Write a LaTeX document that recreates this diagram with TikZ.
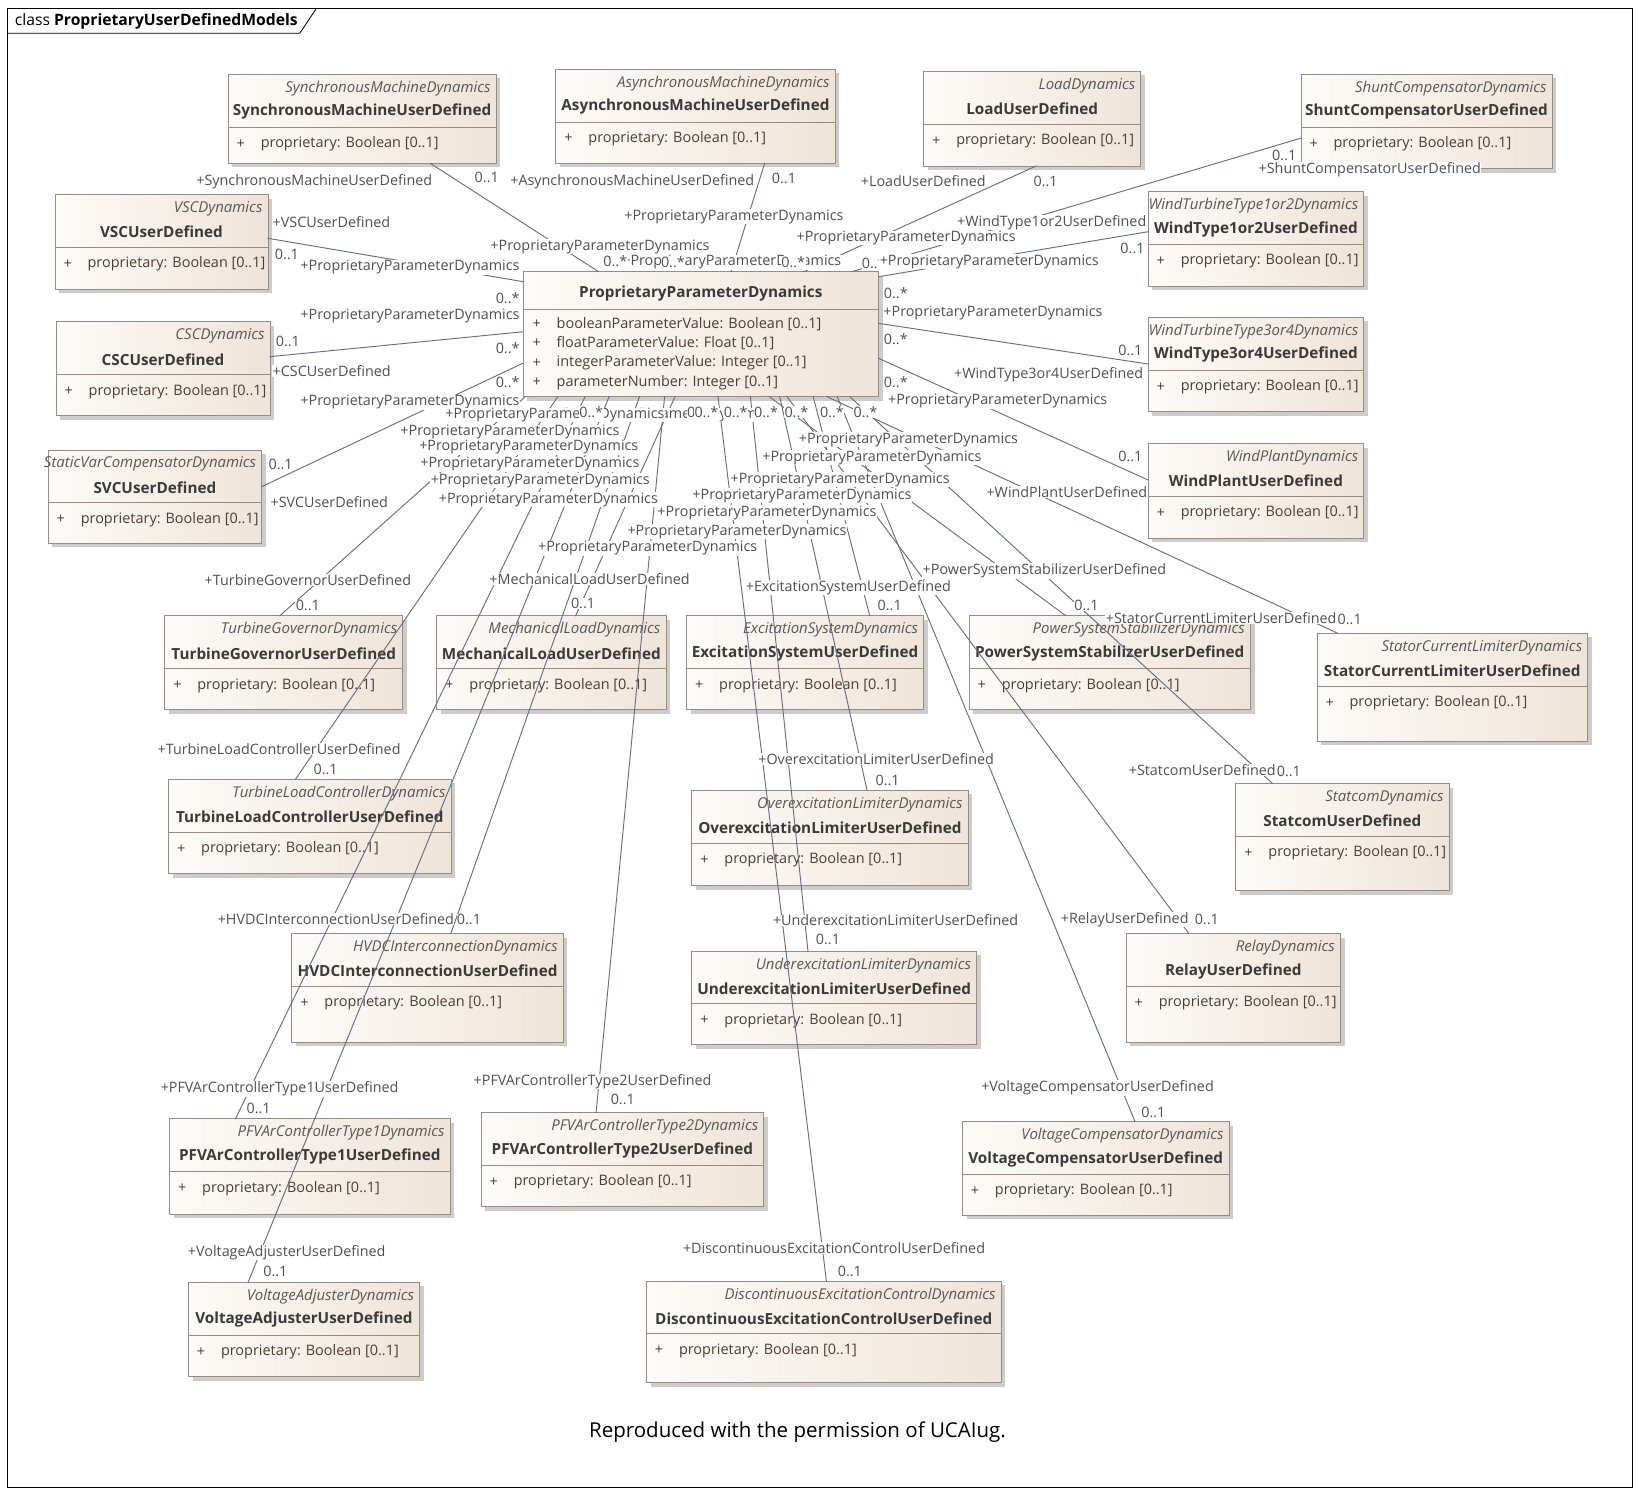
\documentclass[tikz,border=0pt]{standalone}
\usepackage{fontspec}
\newfontfamily\eafont{Open Sans}
\usepackage{tikz}

\begin{document}
\begin{tikzpicture}[x=1pt,y=-1pt,line cap=rect,
	umlbox/.style={draw=col_box_line, line width=0.8pt, left color=col_box_l, right color=col_box_r, inner sep=0, outer sep=0, anchor=north west},
	boxshadow/.style={fill=col_shadow},
	boxline/.style={draw=col_box_line, line width=0.8pt},
	stereo/.style={inner sep=0, text=col_stereo, font=\eafont\itshape\fontsize{14.3}{15}\selectfont},
	clsname/.style={inner sep=0, text=col_name, font=\eafont\bfseries\fontsize{14.6}{15}\selectfont},
	attr/.style={inner sep=0, text=col_attr, font=\eafont\fontsize{13.8}{14}\selectfont},
	assoc/.style={draw=col_assoc, line width=0.9pt},
	lbl/.style={fill=white, inner sep=0.4pt, anchor=west, yshift=-1.5pt, text=col_lbl, font=\eafont\fontsize{13.7}{14}\selectfont},
	lble/.style={lbl, anchor=east}]
	\definecolor{col_box_l}{RGB}{253, 251, 248}
	\definecolor{col_box_r}{RGB}{239, 228, 217}
	\definecolor{col_box_line}{RGB}{150, 140, 134}
	\definecolor{col_shadow}{RGB}{206, 204, 203}
	\definecolor{col_stereo}{RGB}{88, 88, 88}
	\definecolor{col_name}{RGB}{58, 58, 58}
	\definecolor{col_attr}{RGB}{76, 62, 52}
	\definecolor{col_assoc}{RGB}{104, 110, 128}
	\definecolor{col_lbl}{RGB}{80, 80, 80}
	\def\ppdrole{+ProprietaryParameterDynamics}
	% name, x, y, width, height, stereotype, class
	\def\umlclass#1#2#3#4#5#6#7{%
		\fill[boxshadow] (#2+4,#3+4) rectangle ++(#4,#5);
		\node[umlbox, minimum width=#4pt, minimum height=#5pt] (#1) at (#2,#3) {};
		\node[stereo, anchor=east] (#1-st) at ([xshift=-5pt,yshift=-13.5pt]#1.north east) {#6};
		\node[clsname] (#1-nm) at ([yshift=-36pt]#1.north) {#7};
		\draw[boxline] ([yshift=-50.5pt]#1.north west) -- ([yshift=-50.5pt]#1.north east);
		\node[attr, anchor=west] (#1-pl) at ([xshift=8pt,yshift=-66.5pt]#1.north west) {+};
		\node[attr, anchor=west] (#1-at) at ([xshift=31pt,yshift=-66.5pt]#1.north west) {proprietary: Boolean [0..1]};}
	\useasboundingbox (0,0) rectangle (1567,1428.5);
	% frame
	\draw[line width=0.8pt] (7.5,8) rectangle (1559.3,1420.8);
	\draw[line width=0.8pt] (7.5,31.8) -- (286.4,31.8) -- (302.3,8);
	\node[anchor=west, inner sep=0, font=\eafont\fontsize{15}{16}\selectfont] (title) at (14,20.5) {class \textbf{ProprietaryUserDefinedModels}};
	% classes
	\umlclass{sync}{218}{71}{256}{85}{SynchronousMachineDynamics}{SynchronousMachineUserDefined}
	\umlclass{async}{531}{66}{267}{90}{AsynchronousMachineDynamics}{AsynchronousMachineUserDefined}
	\umlclass{load}{882.5}{68}{207.5}{90.6}{LoadDynamics}{LoadUserDefined}
	\umlclass{shunt}{1243}{71}{240}{90}{ShuntCompensatorDynamics}{ShuntCompensatorUserDefined}
	\umlclass{vsc}{52.5}{185.7}{203.5}{90.7}{VSCDynamics}{VSCUserDefined}
	\umlclass{csc}{53.5}{307.4}{204.5}{90}{CSCDynamics}{CSCUserDefined}
	\umlclass{svc}{46}{430}{204}{89}{StaticVarCompensatorDynamics}{SVCUserDefined}
	\umlclass{wtone}{1097}{183}{206}{90.3}{WindTurbineType1or2Dynamics}{WindType1or2UserDefined}
	\umlclass{wtthree}{1097}{303}{206}{90.4}{WindTurbineType3or4Dynamics}{WindType3or4UserDefined}
	\umlclass{wplant}{1097}{423.6}{206}{90.4}{WindPlantDynamics}{WindPlantUserDefined}
	\umlclass{tgov}{157.4}{588.3}{227.4}{90}{TurbineGovernorDynamics}{TurbineGovernorUserDefined}
	\umlclass{mload}{417.3}{588.3}{219}{90}{MechanicalLoadDynamics}{MechanicalLoadUserDefined}
	\umlclass{excsys}{656}{588.3}{226.5}{90}{ExcitationSystemDynamics}{ExcitationSystemUserDefined}
	\umlclass{pss}{926}{588.3}{268.7}{90}{PowerSystemStabilizerDynamics}{PowerSystemStabilizerUserDefined}
	\umlclass{scl}{1258.3}{605}{258.7}{103}{StatorCurrentLimiterDynamics}{StatorCurrentLimiterUserDefined}
	\umlclass{tlc}{161}{744.6}{270}{90.4}{TurbineLoadControllerDynamics}{TurbineLoadControllerUserDefined}
	\umlclass{oel}{661}{755}{264}{91}{OverexcitationLimiterDynamics}{OverexcitationLimiterUserDefined}
	\umlclass{statcom}{1180.8}{748.5}{203.7}{102.5}{StatcomDynamics}{StatcomUserDefined}
	\umlclass{hvdc}{278.8}{891.8}{259.4}{104}{HVDCInterconnectionDynamics}{HVDCInterconnectionUserDefined}
	\umlclass{uel}{661}{908.7}{272}{89.3}{UnderexcitationLimiterDynamics}{UnderexcitationLimiterUserDefined}
	\umlclass{relay}{1076}{891.8}{204.7}{104}{RelayDynamics}{RelayUserDefined}
	\umlclass{pfvone}{162}{1069}{268}{91}{PFVArControllerType1Dynamics}{PFVArControllerType1UserDefined}
	\umlclass{pfvtwo}{459.7}{1062.8}{270}{90.2}{PFVArControllerType2Dynamics}{PFVArControllerType2UserDefined}
	\umlclass{vcomp}{919.5}{1071.7}{254.8}{89.3}{VoltageCompensatorDynamics}{VoltageCompensatorUserDefined}
	\umlclass{vadj}{180}{1225.2}{220.8}{90.2}{VoltageAdjusterDynamics}{VoltageAdjusterUserDefined}
	\umlclass{dec}{617.6}{1224}{339}{97}{DiscontinuousExcitationControlDynamics}{DiscontinuousExcitationControlUserDefined}
	% central class
	\fill[boxshadow] (503.7,263.6) rectangle ++(339.8,119.4);
	\node[umlbox, minimum width=339.8pt, minimum height=119.4pt] (ppd) at (499.7,259.6) {};
	\node[clsname] (ppd-nm) at ([yshift=-21pt]ppd.north) {ProprietaryParameterDynamics};
	\draw[boxline] ([yshift=-36pt]ppd.north west) -- ([yshift=-36pt]ppd.north east);
	\node[attr, anchor=west] (ppd-p1) at ([xshift=9pt,yshift=-50pt]ppd.north west) {+};
	\node[attr, anchor=west] (ppd-a1) at ([xshift=32pt,yshift=-50pt]ppd.north west) {booleanParameterValue: Boolean [0..1]};
	\node[attr, anchor=west] (ppd-p2) at ([xshift=9pt,yshift=-68.7pt]ppd.north west) {+};
	\node[attr, anchor=west] (ppd-a2) at ([xshift=32pt,yshift=-68.7pt]ppd.north west) {floatParameterValue: Float [0..1]};
	\node[attr, anchor=west] (ppd-p3) at ([xshift=9pt,yshift=-87.3pt]ppd.north west) {+};
	\node[attr, anchor=west] (ppd-a3) at ([xshift=32pt,yshift=-87.3pt]ppd.north west) {integerParameterValue: Integer [0..1]};
	\node[attr, anchor=west] (ppd-p4) at ([xshift=9pt,yshift=-105.8pt]ppd.north west) {+};
	\node[attr, anchor=west] (ppd-a4) at ([xshift=32pt,yshift=-105.8pt]ppd.north west) {parameterNumber: Integer [0..1]};
	% associations, top and sides
	\draw[assoc] ([xshift=193pt]sync.south west) -- ([xshift=72.3pt]ppd.north west);
	\draw[assoc] ([xshift=199.6pt]async.south west) -- ([xshift=198.8pt]ppd.north west);
	\draw[assoc] ([xshift=107.5pt]load.south west) -- ([xshift=268.3pt]ppd.north west);
	\draw[assoc] ([yshift=-61pt]shunt.north west) -- ([xshift=314.3pt]ppd.north west);
	\draw[assoc] ([yshift=-38.4pt]wtone.north west) -- ([yshift=-4.8pt]ppd.north east);
	\draw[assoc] ([yshift=-44.8pt]wtthree.north west) -- ([yshift=-49.4pt]ppd.north east);
	\draw[assoc] ([yshift=-35pt]wplant.north west) -- ([yshift=-82.8pt]ppd.north east);
	\draw[assoc] ([yshift=-42pt]vsc.north east) -- ([yshift=-9.5pt]ppd.north west);
	\draw[assoc] ([yshift=-33.4pt]csc.north east) -- ([yshift=-57.4pt]ppd.north west);
	\draw[assoc] ([yshift=-35pt]svc.north east) -- ([yshift=-87.4pt]ppd.north west);
	% associations, bottom fan
	\draw[assoc] ([xshift=110pt]tgov.north west) -- ([xshift=2.3pt]ppd.south west);
	\draw[assoc] ([xshift=121.3pt]tlc.north west) -- ([xshift=33.3pt]ppd.south west);
	\draw[assoc] ([xshift=63pt]pfvone.north west) -- ([xshift=59.3pt]ppd.south west);
	\draw[assoc] ([xshift=57pt]vadj.north west) -- ([xshift=82.3pt]ppd.south west);
	\draw[assoc] ([xshift=152pt]hvdc.north west) -- ([xshift=111.3pt]ppd.south west);
	\draw[assoc] ([xshift=109.9pt]pfvtwo.north west) -- ([xshift=135.3pt]ppd.south west);
	\draw[assoc] ([xshift=132.7pt]mload.north west) -- ([xshift=145.3pt]ppd.south west);
	\draw[assoc] ([xshift=172pt]dec.north west) -- ([xshift=186.3pt]ppd.south west);
	\draw[assoc] ([xshift=111pt]uel.north west) -- ([xshift=217.3pt]ppd.south west);
	\draw[assoc] ([xshift=92.3pt]pss.north west) -- ([xshift=235.3pt]ppd.south west);
	\draw[assoc] ([xshift=167.4pt]oel.north west) -- ([xshift=245.3pt]ppd.south west);
	\draw[assoc] ([xshift=59.8pt]relay.north west) -- ([xshift=252.3pt]ppd.south west);
	\draw[assoc] ([xshift=175pt]excsys.north west) -- ([xshift=277.3pt]ppd.south west);
	\draw[assoc] ([xshift=19.7pt]scl.north west) -- ([xshift=290.3pt]ppd.south west);
	\draw[assoc] ([xshift=165pt]vcomp.north west) -- ([xshift=300.3pt]ppd.south west);
	\draw[assoc] ([xshift=34.9pt]statcom.north west) -- ([xshift=312.3pt]ppd.south west);
	% role and multiplicity labels at the user defined ends
	\node[lbl] (syncR) at (187,172) {+SynchronousMachineUserDefined};
	\node[lbl] (syncN) at (453,168) {0..1};
	\node[lbl] (asyncR) at (487,172) {+AsynchronousMachineUserDefined};
	\node[lbl] (asyncN) at (737,169) {0..1};
	\node[lbl] (loadR) at (822,172) {+LoadUserDefined};
	\node[lbl] (loadN) at (987,172) {0..1};
	\node[lbl] (shuntN) at (1215,147) {0..1};
	\node[lbl] (shuntR) at (1202,161) {+ShuntCompensatorUserDefined};
	\node[lbl] (vscR) at (260,211) {+VSCUserDefined};
	\node[lbl] (vscN) at (262,242) {0..1};
	\node[lbl] (cscN) at (263,325) {0..1};
	\node[lbl] (cscR) at (260,353) {+CSCUserDefined};
	\node[lbl] (svcN) at (256,442) {0..1};
	\node[lbl] (svcR) at (258,478) {+SVCUserDefined};
	\node[lbl] (wtoneR) at (914,211) {+WindType1or2UserDefined};
	\node[lbl] (wtoneN) at (1070,236) {0..1};
	\node[lbl] (wtthreeN) at (1068,333) {0..1};
	\node[lbl] (wtthreeR) at (911,357) {+WindType3or4UserDefined};
	\node[lbl] (wplantN) at (1068,435) {0..1};
	\node[lbl] (wplantR) at (942,469) {+WindPlantUserDefined};
	\node[lbl] (tgovR) at (195,553) {+TurbineGovernorUserDefined};
	\node[lbl] (tgovN) at (282,577) {0..1};
	\node[lbl] (mloadR) at (467,552) {+MechanicalLoadUserDefined};
	\node[lbl] (mloadN) at (545,575) {0..1};
	\node[lbl] (excsysR) at (712,560) {+ExcitationSystemUserDefined};
	\node[lbl] (excsysN) at (838,577) {0..1};
	\node[lbl] (pssR) at (881,544) {+PowerSystemStabilizerUserDefined};
	\node[lbl] (pssN) at (1026,577) {0..1};
	\node[lbl] (sclR) at (1056,589) {+StatorCurrentLimiterUserDefined};
	\node[lbl, anchor=west, yshift=0pt] (sclN) at (sclR.east) {0..1};
	\node[lbl] (tlcR) at (150,714) {+TurbineLoadControllerUserDefined};
	\node[lbl] (tlcN) at (299,734) {0..1};
	\node[lbl] (oelR) at (724,724) {+OverexcitationLimiterUserDefined};
	\node[lbl] (oelN) at (836,744) {0..1};
	\node[lbl] (statcomR) at (1078,734) {+StatcomUserDefined};
	\node[lbl, anchor=west, yshift=0pt] (statcomN) at (statcomR.east) {0..1};
	\node[lbl] (hvdcR) at (207.5,877) {+HVDCInterconnectionUserDefined};
	\node[lbl] (hvdcN) at (436,877) {0..1};
	\node[lbl] (uelR) at (738,878) {+UnderexcitationLimiterUserDefined};
	\node[lbl] (uelN) at (779,896) {0..1};
	\node[lbl] (relayR) at (1013,877) {+RelayUserDefined};
	\node[lbl] (relayN) at (1141,877) {0..1};
	\node[lbl] (pfvoneR) at (153,1039) {+PFVArControllerType1UserDefined};
	\node[lbl] (pfvoneN) at (235,1058) {0..1};
	\node[lbl] (pfvtwoR) at (452,1032) {+PFVArControllerType2UserDefined};
	\node[lbl] (pfvtwoN) at (583,1049) {0..1};
	\node[lbl] (vcompR) at (937,1038) {+VoltageCompensatorUserDefined};
	\node[lbl] (vcompN) at (1090,1061) {0..1};
	\node[lbl] (vadjR) at (179,1195) {+VoltageAdjusterUserDefined};
	\node[lbl] (vadjN) at (251,1213) {0..1};
	\node[lbl] (decR) at (652,1191) {+DiscontinuousExcitationControlUserDefined};
	\node[lbl] (decN) at (800,1213) {0..1};
	% labels at the ProprietaryParameterDynamics ends
	\node[lbl] (shuntP) at (594,249) {\ppdrole};
	\node[lbl] (syncP) at (468,234) {\ppdrole};
	\node[lbl] (syncM) at (576,248) {0..*};
	\node[lbl] (asyncP) at (596,205.5) {\ppdrole};
	\node[lbl] (asyncM) at (631,249) {0..*};
	\node[lbl] (loadM) at (746,249) {0..*};
	\node[lbl] (loadP) at (760.5,226) {\ppdrole};
	\node[lbl] (shuntM) at (823,250) {0..*};
	\node[lbl] (wtoneP) at (840,248.5) {\ppdrole};
	\node[lbl] (wtoneM) at (844,279) {0..*};
	\node[lbl] (wtthreeP) at (843.5,298) {\ppdrole};
	\node[lbl] (wtthreeM) at (844,323) {0..*};
	\node[lbl] (wplantM) at (844,364) {0..*};
	\node[lbl] (wplantP) at (848,382) {\ppdrole};
	\node[lble] (vscP) at (497,254) {\ppdrole};
	\node[lble] (vscM) at (497,283) {0..*};
	\node[lble] (cscP) at (497,300) {\ppdrole};
	\node[lble] (cscM) at (497,331) {0..*};
	\node[lble] (svcM) at (497,364) {0..*};
	\node[lble] (svcP) at (497,383) {\ppdrole};
	\node[lbl] (fanP16) at (530,395) {\ppdrole};
	\node[lbl] (fanP15) at (425,395) {\ppdrole};
	\node[lbl] (fanP1) at (382,411.5) {\ppdrole};
	\node[lbl] (fanP2) at (400,426) {\ppdrole};
	\node[lbl] (fanP3) at (401,442) {\ppdrole};
	\node[lbl] (fanP4) at (411,457.7) {\ppdrole};
	\node[lbl] (fanP5) at (418.7,476) {\ppdrole};
	\node[lbl] (fanP6) at (513.6,522.3) {\ppdrole};
	\node[lbl] (fanP7) at (599,506.4) {\ppdrole};
	\node[lbl] (fanP8) at (627.6,488.2) {\ppdrole};
	\node[lbl] (fanP9) at (661,472.3) {\ppdrole};
	\node[lbl] (fanP10) at (697.5,457) {\ppdrole};
	\node[lbl] (fanP11) at (727.8,435.7) {\ppdrole};
	\node[lbl] (fanP12) at (762.8,418.8) {\ppdrole};
	\node[lbl] (fanM1) at (553,392) {0..*};
	\node[lbl] (fanM2) at (656,392) {0..*};
	\node[lbl] (fanM3) at (663,392) {0..*};
	\node[lbl] (fanM4) at (691,392) {0..*};
	\node[lbl] (fanM5) at (720,392) {0..*};
	\node[lbl] (fanM6) at (749,392) {0..*};
	\node[lbl] (fanM7) at (783,392) {0..*};
	\node[lbl] (fanM8) at (815,392) {0..*};
	\node[font=\eafont\fontsize{19.6}{21}\selectfont, inner sep=0] (credit) at (762,1368) {Reproduced with the permission of UCAIug.};
\end{tikzpicture}
\end{document}
